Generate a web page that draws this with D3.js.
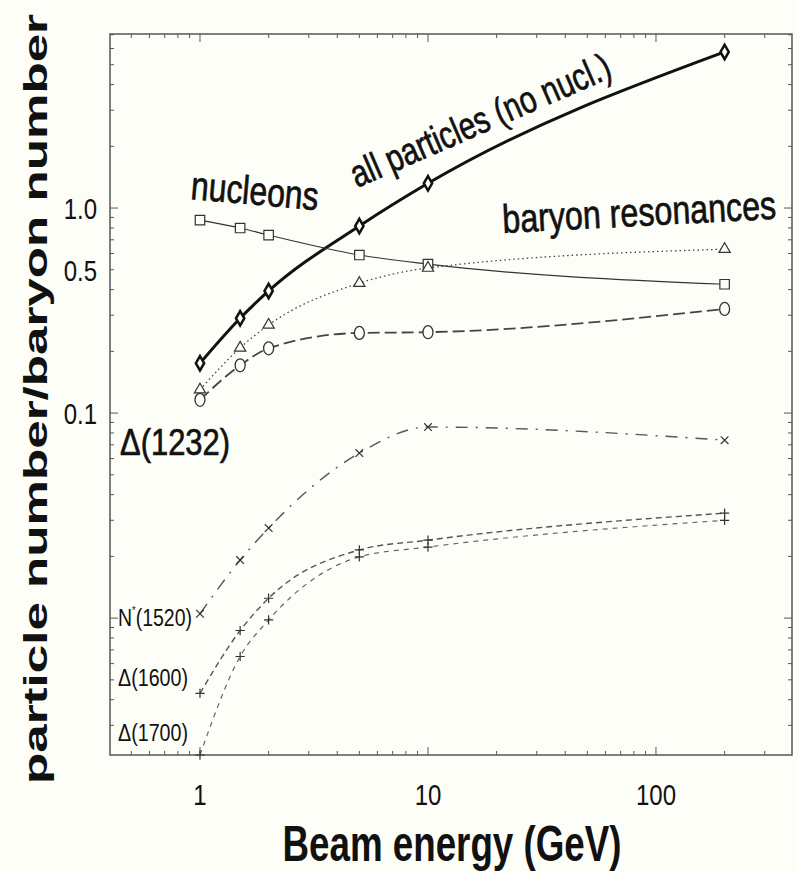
<!DOCTYPE html>
<html>
<head>
<meta charset="utf-8">
<script src="https://cdn.jsdelivr.net/npm/d3@7"></script>
<style>
  body { margin: 0; background: #fefef8; }
  svg { display: block; }
  text { font-family: "Liberation Sans", Arial, sans-serif; fill: #111; }
  text.heavy { stroke: #111; stroke-width: 0.7px; }
</style>
</head>
<body>
<div id="chart"></div>
<script>
// Beam energies (GeV) shared by all curves
const energies = [1, 1.5, 2, 5, 10, 200];

// particle number / baryon number
const allParticles = [0.175, 0.29, 0.394, 0.817, 1.32, 5.77];
const nucleons = [0.874, 0.799, 0.738, 0.59, 0.533, 0.425];
const baryonRes = [0.13, 0.208, 0.269, 0.43, 0.51, 0.63];
const delta1232 = [0.116, 0.171, 0.207, 0.246, 0.248, 0.322];
const nstar1520 = [0.0105, 0.0192, 0.0275, 0.0638, 0.0855, 0.0738];
const delta1600 = [0.0043, 0.0087, 0.0125, 0.0215, 0.024, 0.0325];
const delta1700 = [0.00215, 0.0065, 0.0098, 0.0199, 0.0222, 0.030];

// tick labels
const xTickLabels = [1, 10, 100];
const yTickLabels = [0.1, 0.5, 1.0];

const width = 798;
const height = 873;
const margin = { top: 34, right: 6, bottom: 118, left: 110 };

const svg = d3.select("#chart")
    .append("svg")
    .attr("width", width)
    .attr("height", height)
    .style("background", "#fefef8");

// log scales on both axes
const xScale = d3.scaleLog()
    .domain([0.403, 395])
    .range([margin.left, width - margin.right]);

const yScale = d3.scaleLog()
    .domain([0.00215, 7.06])
    .range([height - margin.bottom, margin.top]);

// minor tick positions, 1..9 per decade
function logTicks(lo, hi) {
    const out = [];
    for (let e = -3; e <= 3; e++) {
        for (let m = 1; m <= 9; m++) {
            const v = m * Math.pow(10, e);
            if (v >= lo && v <= hi) out.push(v);
        }
    }
    return out;
}
const xTicks = logTicks(0.403, 395);
const yTicks = logTicks(0.00215, 7.06);

// frame
svg.append("rect")
    .attr("x", margin.left)
    .attr("y", margin.top)
    .attr("width", width - margin.right - margin.left)
    .attr("height", height - margin.bottom - margin.top)
    .attr("fill", "none")
    .attr("stroke", "#555")
    .attr("stroke-width", 1.5);

// inward ticks on all four sides
function tickSize(v) {
    const m = v / Math.pow(10, Math.floor(Math.log10(v) + 1e-9));
    return Math.abs(m - 1) < 1e-6 ? 8 : 4;
}

const axes = svg.append("g").attr("stroke", "#555").attr("stroke-width", 1);
axes.selectAll(".xb").data(xTicks).enter().append("line")
    .attr("x1", d => xScale(d)).attr("x2", d => xScale(d))
    .attr("y1", height - margin.bottom).attr("y2", d => height - margin.bottom - tickSize(d));
axes.selectAll(".xt").data(xTicks).enter().append("line")
    .attr("x1", d => xScale(d)).attr("x2", d => xScale(d))
    .attr("y1", margin.top).attr("y2", d => margin.top + tickSize(d));
axes.selectAll(".yl").data(yTicks).enter().append("line")
    .attr("y1", d => yScale(d)).attr("y2", d => yScale(d))
    .attr("x1", margin.left).attr("x2", d => margin.left + tickSize(d));
axes.selectAll(".yr").data(yTicks).enter().append("line")
    .attr("y1", d => yScale(d)).attr("y2", d => yScale(d))
    .attr("x1", width - margin.right).attr("x2", d => width - margin.right - tickSize(d));

// tick labels
svg.selectAll(".xlab").data(xTickLabels).enter().append("text")
    .attr("class", "narrow")
    .attr("x", d => xScale(d))
    .attr("y", 805)
    .attr("text-anchor", "middle")
    .attr("font-size", "30px")
    .text(d => d);

svg.selectAll(".ylab").data(yTickLabels).enter().append("text")
    .attr("class", "narrow")
    .attr("x", 97)
    .attr("y", d => yScale(d) + 11)
    .attr("text-anchor", "end")
    .attr("font-size", "30px")
    .text(d => d.toFixed(1));

// axis titles
svg.append("text")
    .attr("x", 452)
    .attr("y", 861)
    .attr("text-anchor", "middle")
    .attr("font-size", "50px")
    .attr("font-weight", "bold")
    .attr("textLength", 339)
    .attr("lengthAdjust", "spacingAndGlyphs")
    .text("Beam energy (GeV)");

svg.append("text")
    .attr("transform", "translate(47,399) rotate(-90)")
    .attr("text-anchor", "middle")
    .attr("font-size", "34px")
    .attr("font-weight", "bold")
    .attr("textLength", 770)
    .attr("lengthAdjust", "spacingAndGlyphs")
    .text("particle number/baryon number");

// series
const series = [
    { name: "all", values: allParticles, width: 3, dash: null, color: "#111", marker: "diamond" },
    { name: "nucleons", values: nucleons, width: 1.2, dash: null, color: "#333", marker: "square" },
    { name: "baryon", values: baryonRes, width: 1.3, dash: "1.5,3", color: "#444", marker: "triangle" },
    { name: "d1232", values: delta1232, width: 1.8, dash: "12,5", color: "#444", marker: "circle" },
    { name: "n1520", values: nstar1520, width: 1.4, dash: "12,8,2,8", color: "#555", marker: "x" },
    { name: "d1600", values: delta1600, width: 1.4, dash: "6,4", color: "#555", marker: "plus" },
    { name: "d1700", values: delta1700, width: 1.2, dash: "5,5", color: "#666", marker: "plus" }
];

const line = d3.line()
    .x((d, i) => xScale(energies[i]))
    .y(d => yScale(d))
    .curve(d3.curveMonotoneX);

const symbolTypes = {
    diamond: { type: d3.symbolDiamond, size: 60 },
    square: { type: d3.symbolSquare, size: 90 },
    triangle: { type: d3.symbolTriangle, size: 55 },
    x: { type: d3.symbolX, size: 40 },
    plus: { type: d3.symbolPlus, size: 30 }
};

series.forEach(s => {
    svg.append("path")
        .datum(s.values)
        .attr("fill", "none")
        .attr("stroke", s.color)
        .attr("stroke-width", s.width)
        .attr("stroke-dasharray", s.dash)
        .attr("d", line);

    const g = svg.append("g");
    if (s.marker === "circle") {
        g.selectAll("ellipse").data(s.values).enter().append("ellipse")
            .attr("cx", (d, i) => xScale(energies[i]))
            .attr("cy", d => yScale(d))
            .attr("rx", 5)
            .attr("ry", 6.5)
            .attr("fill", "#fefef8")
            .attr("stroke", "#333")
            .attr("stroke-width", 1.3);
    } else {
        const st = symbolTypes[s.marker];
        g.selectAll("path").data(s.values).enter().append("path")
            .attr("transform", (d, i) => `translate(${xScale(energies[i])},${yScale(d)})`)
            .attr("d", d3.symbol().type(st.type).size(st.size))
            .attr("fill", s.marker === "x" || s.marker === "plus" ? "none" : "#fefef8")
            .attr("stroke", s.marker === "diamond" ? "#111" : "#333")
            .attr("stroke-width", s.marker === "diamond" ? 2.5 : 1.2);
    }
});

// curve labels
svg.append("text")
    .attr("class", "heavy")
    .attr("transform", "translate(190,199) rotate(5)")
    .attr("font-size", "40px")
    .attr("textLength", 128)
    .attr("lengthAdjust", "spacingAndGlyphs")
    .text("nucleons");

svg.append("text")
    .attr("class", "heavy")
    .attr("transform", "translate(357,188) rotate(-23.5)")
    .attr("font-size", "38px")
    .attr("textLength", 280)
    .attr("lengthAdjust", "spacingAndGlyphs")
    .text("all particles (no nucl.)");

svg.append("text")
    .attr("class", "heavy")
    .attr("transform", "translate(503,233) rotate(-3)")
    .attr("font-size", "40px")
    .attr("textLength", 274)
    .attr("lengthAdjust", "spacingAndGlyphs")
    .text("baryon resonances");

svg.append("text")
    .attr("class", "heavy")
    .attr("x", 120)
    .attr("y", 455)
    .attr("font-size", "37px")
    .attr("textLength", 110)
    .attr("lengthAdjust", "spacingAndGlyphs")
    .text("Δ(1232)");

const nLab = svg.append("text")
    .attr("x", 118)
    .attr("y", 626)
    .attr("font-size", "23px")
    .attr("textLength", 74)
    .attr("lengthAdjust", "spacingAndGlyphs");
nLab.append("tspan").text("N");
nLab.append("tspan").attr("font-size", "11px").attr("dy", -12).text("*");
nLab.append("tspan").attr("dy", 12).text("(1520)");

svg.append("text")
    .attr("x", 118)
    .attr("y", 686)
    .attr("font-size", "23px")
    .attr("textLength", 70)
    .attr("lengthAdjust", "spacingAndGlyphs")
    .text("Δ(1600)");

svg.append("text")
    .attr("x", 118)
    .attr("y", 741)
    .attr("font-size", "23px")
    .attr("textLength", 70)
    .attr("lengthAdjust", "spacingAndGlyphs")
    .text("Δ(1700)");

// condense tick labels like the original typeface
svg.selectAll("text.narrow").each(function () {
    const w = this.getComputedTextLength();
    d3.select(this)
        .attr("textLength", w * 0.8)
        .attr("lengthAdjust", "spacingAndGlyphs");
});
</script>
</body>
</html>
